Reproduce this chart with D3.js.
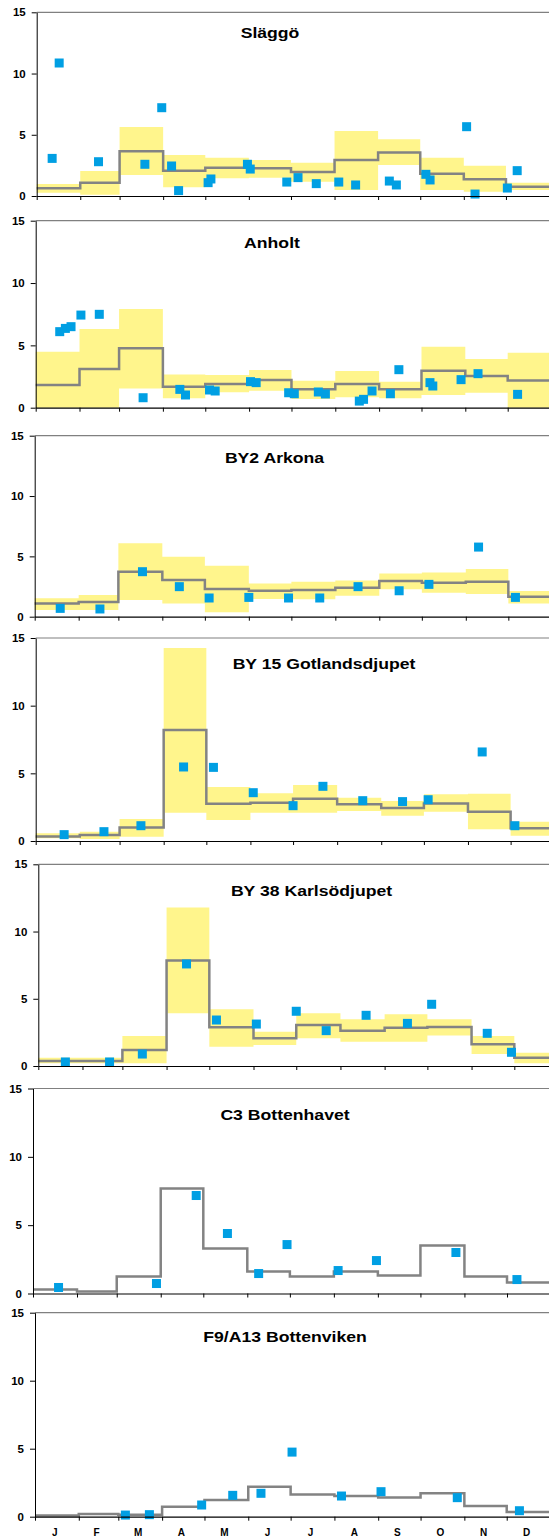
<!DOCTYPE html>
<html>
<head>
<meta charset="utf-8">
<script src="https://cdn.jsdelivr.net/npm/d3@7"></script>
<style>
  body { margin: 0; background: #fff; }
  svg { display: block; }
  text { font-family: "Liberation Sans", Arial, sans-serif; font-weight: bold; }
</style>
</head>
<body>
<svg id="chart" width="549" height="1537"></svg>
<script>
const months = ["J", "F", "M", "A", "M", "J", "J", "A", "S", "O", "N", "D"];
const monthStarts = [0, 31, 59, 90, 120, 151, 181, 212, 243, 273, 304, 334, 365];
const yTicks = [0, 5, 10, 15];

const slaggoMean = [0.63, 1.09, 3.65, 2.07, 2.31, 2.26, 1.96, 2.94, 3.56, 1.82, 1.36, 0.76];
const slaggoLow = [0.27, 0.1, 1.71, 0.71, 1.44, 1.5, 1.17, 0.49, 2.53, 0.49, 0.35, 0.49];
const slaggoHigh = [0.98, 2.04, 5.63, 3.35, 3.13, 2.94, 2.72, 5.31, 4.63, 3.13, 2.48, 1.09];
const slaggoObs = [[11, 3.07], [16, 10.86], [44, 2.8], [77, 2.59], [89, 7.21], [96, 2.45], [101, 0.44],
  [122, 1.09], [124, 1.39], [150, 2.59], [152, 2.2], [178, 1.14], [186, 1.5], [199, 1.01], [215, 1.14],
  [227, 0.9], [251, 1.22], [256, 0.9], [277, 1.77], [280, 1.31], [306, 5.66], [312, 0.16], [335, 0.65],
  [342, 2.07]];

const anholtMean = [1.82, 3.1, 4.76, 1.68, 1.9, 2.22, 1.47, 1.9, 1.47, 2.97, 2.54, 2.19];
const anholtLow = [0, 0, 1.55, 0.75, 1.23, 1.36, 0.7, 0.83, 0.75, 1.02, 1.2, 0];
const anholtHigh = [4.49, 6.31, 7.91, 2.67, 2.62, 3.02, 2.17, 2.94, 2.09, 4.89, 3.9, 4.41];
const anholtObs = [[17, 6.1], [21, 6.36], [25, 6.5], [32, 7.43], [45, 7.49], [76, 0.8], [102, 1.47],
  [106, 1.02], [123, 1.42], [127, 1.34], [152, 2.09], [156, 2.01], [179, 1.2], [183, 1.12], [200, 1.26],
  [205, 1.1], [229, 0.53], [232, 0.67], [238, 1.34], [251, 1.12], [257, 3.05], [279, 2.01], [281, 1.74],
  [301, 2.25], [313, 2.73], [341, 1.07]];

const arkonaMean = [1.1, 1.22, 3.73, 3.04, 2.29, 2.15, 2.21, 2.4, 2.96, 2.82, 2.9, 1.66];
const arkonaLow = [0.55, 0.55, 1.38, 1.1, 0.36, 1.46, 1.44, 1.74, 2.27, 1.99, 1.88, 1.1];
const arkonaHigh = [1.52, 1.8, 6.08, 4.97, 4.23, 2.76, 2.9, 3.01, 3.59, 3.67, 3.95, 2.13];
const arkonaObs = [[18, 0.69], [46, 0.64], [76, 3.73], [102, 2.49], [123, 1.55], [151, 1.6], [179, 1.55],
  [201, 1.55], [228, 2.49], [257, 2.15], [278, 2.68], [313, 5.77], [339, 1.6]];

const gotlandMean = [0.34, 0.44, 0.99, 8.2, 2.76, 2.83, 3.13, 2.71, 2.44, 2.78, 2.17, 0.94];
const gotlandLow = [0.2, 0.15, 0.32, 2.09, 1.55, 2.09, 2.09, 2.22, 1.87, 2.17, 0.86, 0.39];
const gotlandHigh = [0.57, 0.69, 1.63, 14.26, 3.99, 3.52, 4.14, 3.2, 2.96, 3.45, 3.5, 1.43];
const gotlandObs = [[20, 0.47], [48, 0.69], [74, 1.13], [104, 5.47], [125, 5.44], [153, 3.57], [181, 2.61],
  [202, 4.04], [230, 2.98], [258, 2.91], [276, 3.05], [314, 6.58], [337, 1.13]];

const karlsoMean = [0.37, 0.37, 1.19, 7.84, 2.88, 2.06, 3.05, 2.63, 2.85, 2.9, 1.61, 0.62];
const karlsoLow = [0.2, 0.2, 0.2, 3.92, 1.44, 1.56, 2.06, 1.81, 1.81, 2.26, 0.89, 0.2];
const karlsoHigh = [0.62, 0.62, 2.23, 11.78, 4.22, 2.55, 3.92, 3.47, 3.84, 3.47, 2.23, 0.99];
const karlsoObs = [[19, 0.3], [50, 0.3], [73, 0.89], [104, 7.59], [125, 3.42], [153, 3.12], [181, 4.07],
  [202, 2.63], [230, 3.77], [259, 3.17], [276, 4.59], [315, 2.43], [332, 1.02]];

const bottenhavetMean = [0.29, 0.15, 1.24, 7.68, 3.29, 1.61, 1.24, 1.61, 1.32, 3.51, 1.24, 0.8];
const bottenhavetObs = [[18, 0.44], [87, 0.73], [115, 7.17], [137, 4.39], [159, 1.46], [179, 3.58],
  [215, 1.68], [242, 2.41], [298, 3.0], [341, 1.02]];

const bottenvikenMean = [0.08, 0.2, 0.15, 0.74, 1.23, 2.21, 1.64, 1.52, 1.42, 1.72, 0.78, 0.34];
const bottenvikenObs = [[64, 0.12], [81, 0.15], [118, 0.86], [140, 1.57], [160, 1.72], [182, 4.75],
  [217, 1.52], [245, 1.84], [299, 1.4], [343, 0.44]];

const stations = [
  { name: "Släggö", mean: slaggoMean, low: slaggoLow, high: slaggoHigh, obs: slaggoObs },
  { name: "Anholt", mean: anholtMean, low: anholtLow, high: anholtHigh, obs: anholtObs },
  { name: "BY2 Arkona", mean: arkonaMean, low: arkonaLow, high: arkonaHigh, obs: arkonaObs },
  { name: "BY 15 Gotlandsdjupet", mean: gotlandMean, low: gotlandLow, high: gotlandHigh, obs: gotlandObs },
  { name: "BY 38 Karlsödjupet", mean: karlsoMean, low: karlsoLow, high: karlsoHigh, obs: karlsoObs },
  { name: "C3 Bottenhavet", mean: bottenhavetMean, low: null, high: null, obs: bottenhavetObs },
  { name: "F9/A13 Bottenviken", mean: bottenvikenMean, low: null, high: null, obs: bottenvikenObs },
];

// panel frames in pixels: top (15), bottom (0), left (1 Jan), right (31 Dec), title centre and baseline
const frames = [
  { top: 12.3, bottom: 196, left: 36.7, right: 549.5, tx: 270, ty: 38 },
  { top: 220.7, bottom: 407.7, left: 35.7, right: 551.5, tx: 272, ty: 248.3 },
  { top: 435.7, bottom: 616.7, left: 34.7, right: 552.3, tx: 274.5, ty: 463.3 },
  { top: 638, bottom: 841, left: 35.7, right: 554.7, tx: 324, ty: 669.3 },
  { top: 864.3, bottom: 1066, left: 38.3, right: 558.5, tx: 311.5, ty: 895.7 },
  { top: 1088.5, bottom: 1293.5, left: 33, right: 551, tx: 285, ty: 1120 },
  { top: 1312.7, bottom: 1516.7, left: 35, right: 550.5, tx: 285, ty: 1341.7 },
];

const svg = d3.select("#chart");

const steps = mean => mean.flatMap((v, i) => [
  { day: monthStarts[i], i },
  { day: monthStarts[i + 1], i },
]);

stations.forEach((st, k) => {
  const f = frames[k];
  const x = d3.scaleLinear().domain([0, 365]).range([f.left, f.right]);
  const y = d3.scaleLinear().domain([0, 15]).range([f.bottom, f.top]);
  const g = svg.append("g").attr("class", "panel");
  const pts = steps(st.mean);

  if (st.low) {
    g.append("path")
      .datum(pts)
      .attr("fill", "#fff58c")
      .attr("d", d3.area()
        .x(d => x(d.day))
        .y0(d => y(st.low[d.i]))
        .y1(d => y(st.high[d.i])));
  }

  g.append("line")
    .attr("x1", f.left)
    .attr("x2", 549)
    .attr("y1", y(15))
    .attr("y2", y(15))
    .attr("stroke", "#808080")
    .attr("stroke-width", 1.2);

  g.append("path")
    .datum(pts)
    .attr("fill", "none")
    .attr("stroke", "#838383")
    .attr("stroke-width", 2.5)
    .attr("d", d3.line()
      .x(d => x(d.day))
      .y(d => y(st.mean[d.i])));

  g.selectAll(".obs")
    .data(st.obs)
    .enter()
    .append("rect")
    .attr("class", "obs")
    .attr("x", d => x(d[0]) - 4.5)
    .attr("y", d => y(d[1]) - 4.5)
    .attr("width", 9)
    .attr("height", 9)
    .attr("fill", "#009fe3");

  const yAxis = g.append("g")
    .attr("transform", `translate(${f.left},0)`)
    .call(d3.axisLeft(y).tickValues(yTicks).tickSize(5).tickSizeOuter(0).tickPadding(6));
  yAxis.select(".domain").attr("stroke", "#000");
  yAxis.selectAll("text")
    .style("font-size", "11.5px")
    .attr("fill", "#000");

  const xAxis = g.append("g")
    .attr("transform", `translate(0,${f.bottom})`)
    .call(d3.axisBottom(x).tickValues(monthStarts.slice(0, 12)).tickSize(4).tickSizeOuter(0).tickFormat(""));
  xAxis.select(".domain").attr("stroke", "#000").attr("stroke-width", 1.2);

  g.append("text")
    .attr("transform", `translate(${f.tx},${f.ty}) scale(1.26,1)`)
    .attr("text-anchor", "middle")
    .style("font-size", "14px")
    .text(st.name);

  if (k === stations.length - 1) {
    g.selectAll(".month")
      .data(months)
      .enter()
      .append("text")
      .attr("class", "month")
      .attr("x", (d, i) => x((monthStarts[i] + monthStarts[i + 1]) / 2) - 2)
      .attr("y", 1536)
      .attr("text-anchor", "middle")
      .style("font-size", "10px")
      .text(d => d);
  }
});
</script>
</body>
</html>
